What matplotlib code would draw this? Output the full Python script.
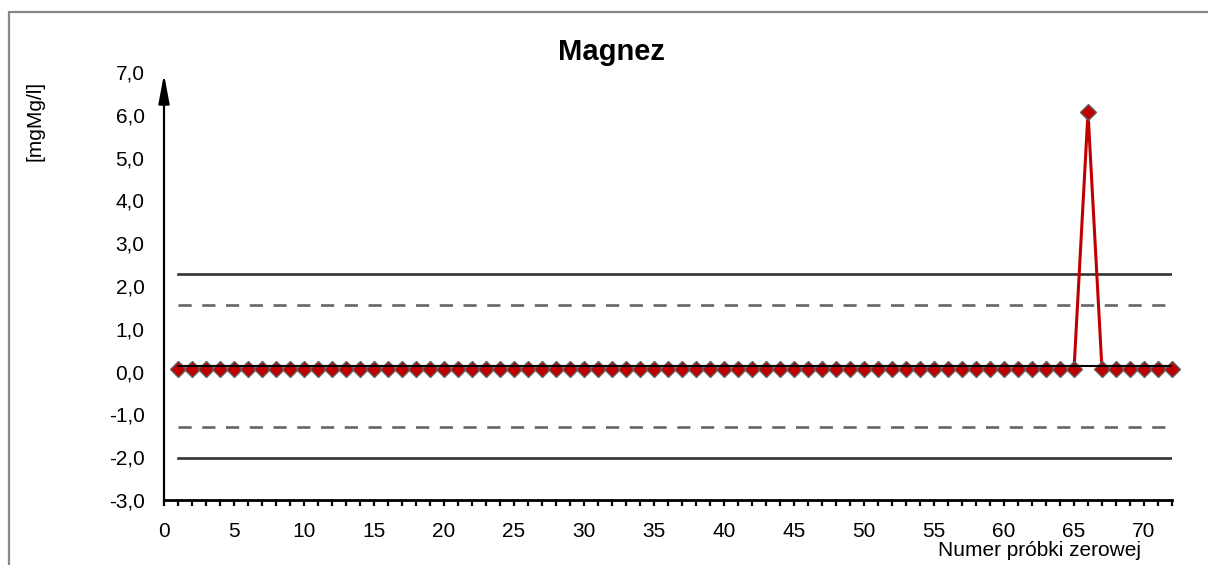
import numpy as np
import matplotlib.pyplot as plt
from matplotlib.patches import Rectangle

plt.rcParams['font.family'] = ['Liberation Sans', 'DejaVu Sans']

# numer probki 1..72, wartosci
probki = list(range(1, 73))
wartosci = [0.05] * 65 + [6.06] + [0.05] * 6

srednia = 0.13
gorna_kontrolna = 2.27
gorna_ostrzegawcza = 1.55
dolna_ostrzegawcza = -1.30
dolna_kontrolna = -2.01

y_ticks = [-3, -2, -1, 0, 1, 2, 3, 4, 5, 6, 7]
x_ticks = list(range(0, 75, 5))

fig = plt.figure(figsize=(12.08, 5.65), dpi=100)
ax = fig.add_axes([164/1208, 1 - 500/565, 1008/1208, 428/565])

# ramka wykresu
fig.patches.append(Rectangle((9/1208, -0.05), 1.2, 1 - 12/565 + 0.05,
                             transform=fig.transFigure, fill=False,
                             edgecolor='#888888', linewidth=1.6))

x0, x1 = probki[0], probki[-1]
ax.plot([x0, x1], [gorna_kontrolna]*2, color='#333333', lw=1.9, zorder=2)
ax.plot([x0, x1], [dolna_kontrolna]*2, color='#333333', lw=1.9, zorder=2)
ax.plot([x0, x1], [gorna_ostrzegawcza]*2, color='#666666', lw=1.9,
        dashes=(5, 4), zorder=2)
ax.plot([x0, x1], [dolna_ostrzegawcza]*2, color='#666666', lw=1.9,
        dashes=(5, 4), zorder=2)

ax.plot(probki, wartosci, color='#C00000', lw=2.2, marker='D', markersize=8.3,
        markerfacecolor='#C00000', markeredgecolor='#606060',
        markeredgewidth=1.0, zorder=3, clip_on=False)
ax.plot([x0, x1], [srednia]*2, color='black', lw=1.5, zorder=4)

ax.set_xlim(0, 72)
ax.set_ylim(-3, 7)
ax.set_xticks(x_ticks)
ax.set_xticks(range(0, 73), minor=True)
ax.set_yticks(y_ticks)
ax.set_yticklabels([f'{v:.1f}'.replace('.', ',') for v in y_ticks])

for s in ['top', 'right', 'left']:
    ax.spines[s].set_visible(False)
ax.spines['bottom'].set_linewidth(2)
ax.annotate('', xy=(0, 6.95), xytext=(0, -3.02), xycoords='data',
            arrowprops=dict(arrowstyle='-|>,head_length=0.8,head_width=0.15',
                            color='black', lw=1.6, mutation_scale=22,
                            shrinkA=0, shrinkB=0),
            annotation_clip=False)

ax.tick_params(axis='x', which='both', direction='out', length=4, width=1.6,
               labelsize=15, pad=12)
ax.tick_params(axis='y', length=0, labelsize=15, pad=14)

fig.text(611/1208, 1 - 52/565, 'Magnez', ha='center', va='center',
         fontsize=21, fontweight='bold')
fig.text(35/1208, 1 - 121/565, '[mgMg/l]', rotation=90, ha='center',
         va='center', fontsize=15)
fig.text(1040/1208, 1 - 551/565, 'Numer próbki zerowej', ha='center',
         va='center', fontsize=15)

fig.savefig('out.png', dpi=100)
